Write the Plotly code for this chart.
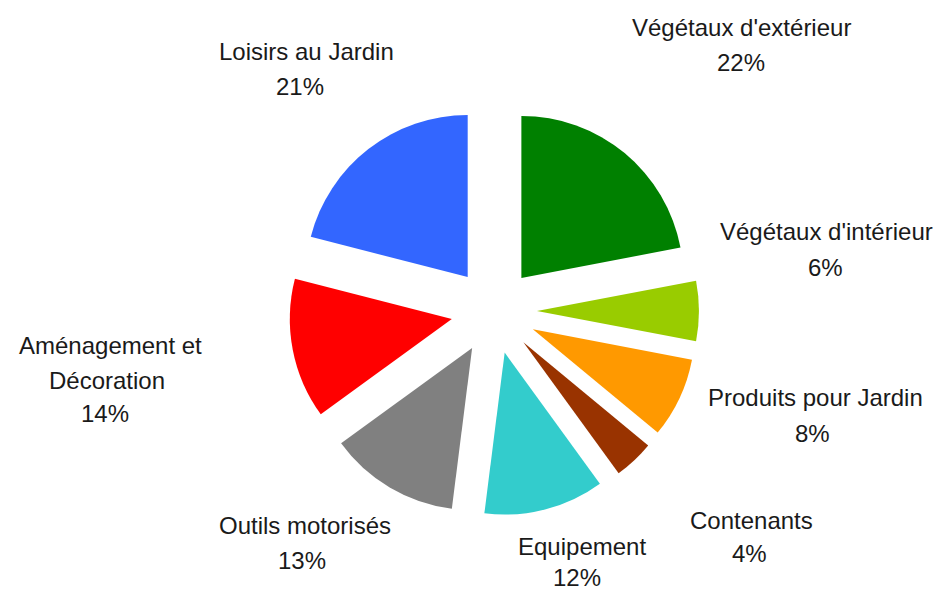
import plotly.graph_objects as go

# Data (clockwise from 12 o'clock)
labels = ["Végétaux d'extérieur", "Végétaux d'intérieur", "Produits pour Jardin",
          "Contenants", "Equipement", "Outils motorisés",
          "Aménagement et Décoration", "Loisirs au Jardin"]
values = [22, 6, 8, 4, 12, 13, 14, 21]
colors = ["#008000", "#99cc00", "#ff9900", "#993300",
          "#33cccc", "#808080", "#ff0000", "#3366ff"]

# label text lines (name lines) for each slice
label_lines = [["Végétaux d'extérieur"], ["Végétaux d'intérieur"], ["Produits pour Jardin"],
               ["Contenants"], ["Equipement"], ["Outils motorisés"],
               ["Aménagement et", "Décoration"], ["Loisirs au Jardin"]]

# label line positions in pixels (x center, y center per line incl. percent line)
label_pos = [
    [(741, 27), (741, 62)],
    [(826, 232), (825, 267)],
    [(815, 398), (812, 433)],
    [(751, 520), (749, 553)],
    [(582, 546), (577, 577)],
    [(305, 525), (302, 560)],
    [(110, 345), (107, 380), (105, 413)],
    [(306, 51), (300, 86)],
]

W, H = 950, 591
cx, cy, r, pull = 494, 311, 162, 0.265
half = r * (1 + pull)

fig = go.Figure(go.Pie(
    labels=labels,
    values=values,
    sort=False,
    direction="clockwise",
    rotation=0,
    pull=[pull] * len(values),
    marker=dict(colors=colors, line=dict(width=0)),
    textinfo="none",
    hoverinfo="label+percent",
    showlegend=False,
    domain=dict(x=[(cx - half) / W, (cx + half) / W],
                y=[1 - (cy + half) / H, 1 - (cy - half) / H]),
))

annotations = []
for lines, v, pos in zip(label_lines, values, label_pos):
    texts = lines + [f"{v}%"]
    for t, (px, py) in zip(texts, pos):
        annotations.append(dict(
            text=t, x=px / W, y=1 - py / H, xref="paper", yref="paper",
            xanchor="center", yanchor="middle", showarrow=False,
            font=dict(family="Liberation Sans, Arial, sans-serif", size=24, color="#1a1a1a"),
        ))

fig.update_layout(
    width=W, height=H,
    margin=dict(l=0, r=0, t=0, b=0),
    paper_bgcolor="white",
    plot_bgcolor="white",
    annotations=annotations,
)

fig.write_html("out.html", config={"displayModeBar": False},
               post_script="document.body.style.margin='0px';")
